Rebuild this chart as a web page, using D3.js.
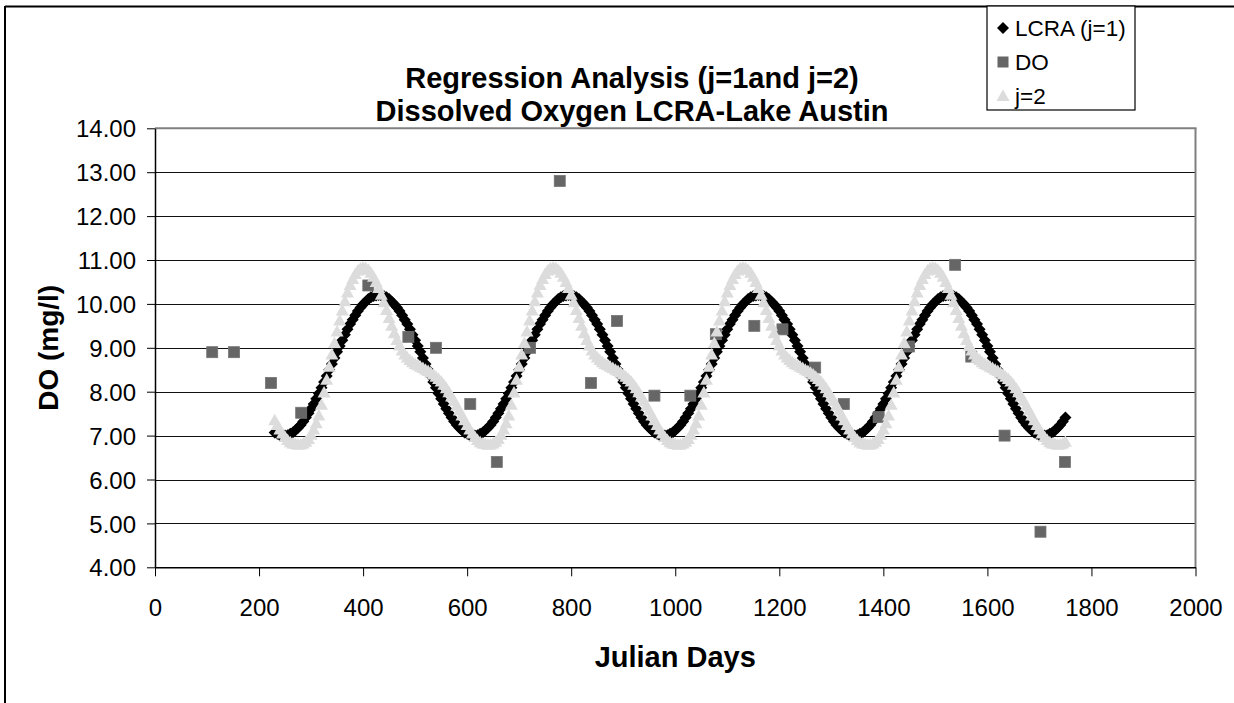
<!DOCTYPE html>
<html>
<head>
<meta charset="utf-8">
<script src="https://cdn.jsdelivr.net/npm/d3@7/dist/d3.min.js"></script>
<style>
  html, body { margin: 0; padding: 0; background: #fff; }
  svg { display: block; font-family: "Liberation Sans", Arial, sans-serif; }
</style>
</head>
<body>
<svg id="chart" width="1234" height="703"></svg>
<script>
// ---------------- data ----------------
const titleLines = ["Regression Analysis (j=1and j=2)", "Dissolved Oxygen LCRA-Lake Austin"];
const xTitle = "Julian Days";
const yTitle = "DO (mg/l)";
const seriesNames = ["LCRA (j=1)", "DO", "j=2"];
const xTicks = [0, 200, 400, 600, 800, 1000, 1200, 1400, 1600, 1800, 2000];
const yTicks = [4, 5, 6, 7, 8, 9, 10, 11, 12, 13, 14];

// regression curves, sampled every 5 Julian days (230 ... 1750)
const curveDays = [
  230,235,240,245,250,255,260,265,270,275,280,285,290,295,300,305,310,315,320,325,
  330,335,340,345,350,355,360,365,370,375,380,385,390,395,400,405,410,415,420,425,
  430,435,440,445,450,455,460,465,470,475,480,485,490,495,500,505,510,515,520,525,
  530,535,540,545,550,555,560,565,570,575,580,585,590,595,600,605,610,615,620,625,
  630,635,640,645,650,655,660,665,670,675,680,685,690,695,700,705,710,715,720,725,
  730,735,740,745,750,755,760,765,770,775,780,785,790,795,800,805,810,815,820,825,
  830,835,840,845,850,855,860,865,870,875,880,885,890,895,900,905,910,915,920,925,
  930,935,940,945,950,955,960,965,970,975,980,985,990,995,1000,1005,1010,1015,1020,1025,
  1030,1035,1040,1045,1050,1055,1060,1065,1070,1075,1080,1085,1090,1095,1100,1105,1110,1115,1120,1125,
  1130,1135,1140,1145,1150,1155,1160,1165,1170,1175,1180,1185,1190,1195,1200,1205,1210,1215,1220,1225,
  1230,1235,1240,1245,1250,1255,1260,1265,1270,1275,1280,1285,1290,1295,1300,1305,1310,1315,1320,1325,
  1330,1335,1340,1345,1350,1355,1360,1365,1370,1375,1380,1385,1390,1395,1400,1405,1410,1415,1420,1425,
  1430,1435,1440,1445,1450,1455,1460,1465,1470,1475,1480,1485,1490,1495,1500,1505,1510,1515,1520,1525,
  1530,1535,1540,1545,1550,1555,1560,1565,1570,1575,1580,1585,1590,1595,1600,1605,1610,1615,1620,1625,
  1630,1635,1640,1645,1650,1655,1660,1665,1670,1675,1680,1685,1690,1695,1700,1705,1710,1715,1720,1725,
  1730,1735,1740,1745,1750];

const lcraJ1 = [
  7.07,7.04,7.01,7.00,7.00,7.01,7.04,7.07,7.12,7.18,7.24,7.32,7.41,7.51,7.61,7.72,7.84,7.96,8.09,8.22,
  8.36,8.50,8.63,8.77,8.91,9.04,9.17,9.30,9.42,9.54,9.64,9.74,9.84,9.92,9.99,10.05,10.11,10.15,10.18,10.19,
  10.20,10.19,10.18,10.15,10.11,10.05,9.99,9.92,9.84,9.74,9.64,9.54,9.42,9.30,9.17,9.04,8.91,8.77,8.63,8.50,
  8.36,8.22,8.09,7.96,7.84,7.72,7.61,7.51,7.41,7.32,7.24,7.18,7.12,
  7.07,7.04,7.01,7.00,7.00,7.01,7.04,7.07,7.12,7.18,7.24,7.32,7.41,7.51,7.61,7.72,7.84,7.96,8.09,8.22,
  8.36,8.50,8.63,8.77,8.91,9.04,9.17,9.30,9.42,9.54,9.64,9.74,9.84,9.92,9.99,10.05,10.11,10.15,10.18,10.19,
  10.20,10.19,10.18,10.15,10.11,10.05,9.99,9.92,9.84,9.74,9.64,9.54,9.42,9.30,9.17,9.04,8.91,8.77,8.63,8.50,
  8.36,8.22,8.09,7.96,7.84,7.72,7.61,7.51,7.41,7.32,7.24,7.18,7.12,
  7.07,7.04,7.01,7.00,7.00,7.01,7.04,7.07,7.12,7.18,7.24,7.32,7.41,7.51,7.61,7.72,7.84,7.96,8.09,8.22,
  8.36,8.50,8.63,8.77,8.91,9.04,9.17,9.30,9.42,9.54,9.64,9.74,9.84,9.92,9.99,10.05,10.11,10.15,10.18,10.19,
  10.20,10.19,10.18,10.15,10.11,10.05,9.99,9.92,9.84,9.74,9.64,9.54,9.42,9.30,9.17,9.04,8.91,8.77,8.63,8.50,
  8.36,8.22,8.09,7.96,7.84,7.72,7.61,7.51,7.41,7.32,7.24,7.18,7.12,
  7.07,7.04,7.01,7.00,7.00,7.01,7.04,7.07,7.12,7.18,7.24,7.32,7.41,7.51,7.61,7.72,7.84,7.96,8.09,8.22,
  8.36,8.50,8.63,8.77,8.91,9.04,9.17,9.30,9.42,9.54,9.64,9.74,9.84,9.92,9.99,10.05,10.11,10.15,10.18,10.19,
  10.20,10.19,10.18,10.15,10.11,10.05,9.99,9.92,9.84,9.74,9.64,9.54,9.42,9.30,9.17,9.04,8.91,8.77,8.63,8.50,
  8.36,8.22,8.09,7.96,7.84,7.72,7.61,7.51,7.41,7.32,7.24,7.18,7.12,
  7.07,7.04,7.01,7.00,7.00,7.01,7.04,7.07,7.12,7.18,7.24,7.32,7.41];

const j2Values = [
  7.35,7.24,7.14,7.05,6.97,6.90,6.85,6.82,6.81,6.79,6.80,6.82,6.86,6.92,7.02,7.14,7.28,7.46,7.70,7.98,
  8.27,8.57,8.85,9.11,9.37,9.62,9.85,10.06,10.26,10.43,10.57,10.68,10.76,10.81,10.83,10.82,10.78,10.71,10.62,10.50,
  10.36,10.21,10.04,9.86,9.68,9.50,9.33,9.18,9.05,8.94,8.85,8.78,8.72,8.67,8.63,8.60,8.57,8.54,8.50,8.47,
  8.43,8.39,8.34,8.29,8.23,8.16,8.08,7.99,7.89,7.79,7.68,7.57,7.46,
  7.35,7.24,7.14,7.05,6.97,6.90,6.85,6.82,6.81,6.79,6.80,6.82,6.86,6.92,7.02,7.14,7.28,7.46,7.70,7.98,
  8.27,8.57,8.85,9.11,9.37,9.62,9.85,10.06,10.26,10.43,10.57,10.68,10.76,10.81,10.83,10.82,10.78,10.71,10.62,10.50,
  10.36,10.21,10.04,9.86,9.68,9.50,9.33,9.18,9.05,8.94,8.85,8.78,8.72,8.67,8.63,8.60,8.57,8.54,8.50,8.47,
  8.43,8.39,8.34,8.29,8.23,8.16,8.08,7.99,7.89,7.79,7.68,7.57,7.46,
  7.35,7.24,7.14,7.05,6.97,6.90,6.85,6.82,6.81,6.79,6.80,6.82,6.86,6.92,7.02,7.14,7.28,7.46,7.70,7.98,
  8.27,8.57,8.85,9.11,9.37,9.62,9.85,10.06,10.26,10.43,10.57,10.68,10.76,10.81,10.83,10.82,10.78,10.71,10.62,10.50,
  10.36,10.21,10.04,9.86,9.68,9.50,9.33,9.18,9.05,8.94,8.85,8.78,8.72,8.67,8.63,8.60,8.57,8.54,8.50,8.47,
  8.43,8.39,8.34,8.29,8.23,8.16,8.08,7.99,7.89,7.79,7.68,7.57,7.46,
  7.35,7.24,7.14,7.05,6.97,6.90,6.85,6.82,6.81,6.79,6.80,6.82,6.86,6.92,7.02,7.14,7.28,7.46,7.70,7.98,
  8.27,8.57,8.85,9.11,9.37,9.62,9.85,10.06,10.26,10.43,10.57,10.68,10.76,10.81,10.83,10.82,10.78,10.71,10.62,10.50,
  10.36,10.21,10.04,9.86,9.68,9.50,9.33,9.18,9.05,8.94,8.85,8.78,8.72,8.67,8.63,8.60,8.57,8.54,8.50,8.47,
  8.43,8.39,8.34,8.29,8.23,8.16,8.08,7.99,7.89,7.79,7.68,7.57,7.46,
  7.35,7.24,7.14,7.05,6.97,6.90,6.85,6.82,6.81,6.79,6.80,6.82,6.86];

// measured dissolved oxygen
const doDays   = [110,152,223,281,410,487,540,606,657,721,778,838,888,960,1029,1078,1152,1206,1269,1324,1391,1449,1538,1569,1633,1702,1749];
const doValues = [8.90,8.90,8.20,7.52,10.42,9.25,9.00,7.72,6.40,9.00,12.80,8.20,9.61,7.91,7.91,9.31,9.50,9.42,8.55,7.72,7.42,9.03,10.89,8.80,7.00,4.81,6.40];

// ---------------- drawing ----------------
const svg = d3.select("#chart");
const W = 1234, H = 703;
const plot = { left: 155, right: 1195.5, top: 128.3, bottom: 567.3 };

const x = d3.scaleLinear().domain([0, 2000]).range([plot.left, plot.right]);
const y = d3.scaleLinear().domain([4, 14]).range([plot.bottom, plot.top]);

svg.append("rect").attr("width", W).attr("height", H).attr("fill", "#fff");

// chart outer border (left and top visible)
svg.append("line").attr("x1", 5).attr("x2", 5).attr("y1", 6).attr("y2", H)
  .attr("stroke", "#000").attr("stroke-width", 2);
svg.append("line").attr("x1", 5).attr("x2", W).attr("y1", 6.5).attr("y2", 6.5)
  .attr("stroke", "#000").attr("stroke-width", 2);

// gridlines
svg.append("g").selectAll("line").data(yTicks.filter(v => v > 4 && v < 14)).join("line")
  .attr("x1", plot.left).attr("x2", plot.right)
  .attr("y1", d => Math.round(y(d)) + 0.5).attr("y2", d => Math.round(y(d)) + 0.5)
  .attr("stroke", "#111").attr("stroke-width", 1);

// plot area border (top and right, gray)
svg.append("line").attr("x1", plot.left).attr("x2", plot.right + 1).attr("y1", plot.top).attr("y2", plot.top)
  .attr("stroke", "#808080").attr("stroke-width", 2);
svg.append("line").attr("x1", plot.right).attr("x2", plot.right).attr("y1", plot.top).attr("y2", plot.bottom)
  .attr("stroke", "#808080").attr("stroke-width", 2);

// axes
const yAxis = svg.append("g").attr("transform", `translate(${plot.left},0)`)
  .call(d3.axisLeft(y).tickValues(yTicks).tickFormat(d3.format(".2f")).tickSize(8).tickSizeOuter(0));
yAxis.select(".domain").attr("stroke", "#000").attr("stroke-width", 1.5);
yAxis.selectAll(".tick line").attr("stroke", "#000");
yAxis.selectAll(".tick text").attr("x", -19).attr("dy", "0.36em")
  .attr("font-size", 24).attr("fill", "#000").attr("font-family", "Liberation Sans, Arial, sans-serif");

const xAxis = svg.append("g").attr("transform", `translate(0,${plot.bottom})`)
  .call(d3.axisBottom(x).tickValues(xTicks).tickFormat(d3.format("d")).tickSize(9).tickSizeOuter(0));
xAxis.select(".domain").attr("stroke", "#000").attr("stroke-width", 1.5);
xAxis.selectAll(".tick line").attr("stroke", "#000");
xAxis.selectAll(".tick text").attr("y", 48.3).attr("dy", 0)
  .attr("font-size", 24).attr("fill", "#000").attr("font-family", "Liberation Sans, Arial, sans-serif");

// marker shapes
const diamondPath = "M0,-6L6,0L0,6L-6,0Z";
const trianglePath = "M0,-6.5L6.5,5L-6.5,5Z";
const sq = 11;

// series 1: LCRA (j=1)
const s1 = curveDays.map((d, i) => [d, lcraJ1[i]]).filter(p => p[1] != null);
svg.append("g").selectAll("path").data(s1).join("path")
  .attr("d", diamondPath)
  .attr("transform", p => `translate(${x(p[0])},${y(p[1])})`)
  .attr("fill", "#000");

// series 2: DO
const s2 = doDays.map((d, i) => [d, doValues[i]]);
svg.append("g").selectAll("rect").data(s2).join("rect")
  .attr("x", p => x(p[0]) - sq / 2).attr("y", p => y(p[1]) - sq / 2)
  .attr("width", sq).attr("height", sq)
  .attr("fill", "#666").attr("stroke", "#747474").attr("stroke-width", 0.8);

// series 3: j=2
const s3 = curveDays.map((d, i) => [d, j2Values[i]]).filter(p => p[1] != null);
svg.append("g").selectAll("path").data(s3).join("path")
  .attr("d", trianglePath)
  .attr("transform", p => `translate(${x(p[0])},${y(p[1])})`)
  .attr("fill", "#dcdcdc");

// title
const title = svg.append("text").attr("text-anchor", "middle")
  .attr("font-weight", "bold").attr("font-size", 29).attr("fill", "#000");
title.selectAll("tspan").data(titleLines).join("tspan")
  .attr("x", 632).attr("y", (d, i) => 88 + i * 33).text(d => d);

// axis titles
svg.append("text").attr("x", (plot.left + plot.right) / 2).attr("y", 667)
  .attr("text-anchor", "middle").attr("font-weight", "bold").attr("font-size", 29)
  .attr("fill", "#000").text(xTitle);
svg.append("text").attr("transform", `translate(58,${(plot.top + plot.bottom) / 2}) rotate(-90)`)
  .attr("text-anchor", "middle").attr("font-weight", "bold").attr("font-size", 28)
  .attr("fill", "#000").text(yTitle);

// legend
const lg = svg.append("g");
lg.append("rect").attr("x", 987).attr("y", 6).attr("width", 148).attr("height", 104)
  .attr("fill", "#fff").attr("stroke", "#000").attr("stroke-width", 1.2);
const rowY = [28, 62, 96];
const lgItems = lg.selectAll("g.item").data(seriesNames).join("g").attr("class", "item")
  .attr("transform", (d, i) => `translate(1003,${rowY[i]})`);
lgItems.each(function(d, i) {
  const g = d3.select(this);
  if (i === 0) g.append("path").attr("d", diamondPath).attr("fill", "#000");
  if (i === 1) g.append("rect").attr("x", -5.5).attr("y", -5.5).attr("width", 11).attr("height", 11).attr("fill", "#666");
  if (i === 2) g.append("path").attr("d", trianglePath).attr("fill", "#dcdcdc");
  g.append("text").attr("x", 12).attr("dy", "0.36em").attr("font-size", 22.5).attr("fill", "#000").text(d);
});
</script>
</body>
</html>
